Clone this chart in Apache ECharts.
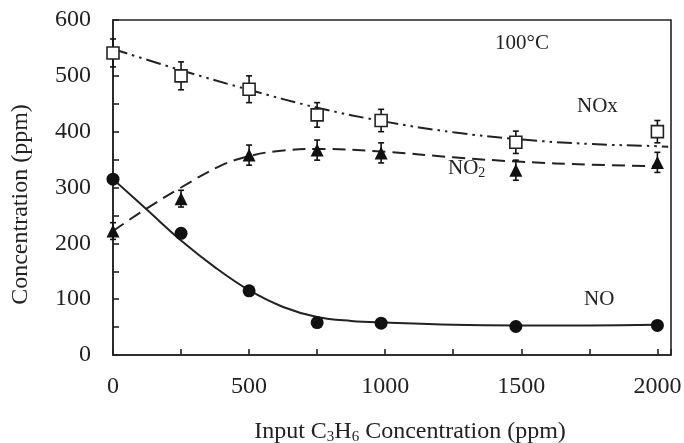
<!DOCTYPE html>
<html>
<head>
<meta charset="utf-8">
<script src="https://cdn.jsdelivr.net/npm/echarts@6/dist/echarts.min.js"></script>
<style>html,body{margin:0;padding:0;background:#fff;}#c{width:684px;height:443px;}</style>
</head>
<body>
<div id="c"></div>
<script>
// Measured points
const xVals = [0, 250, 500, 750, 985, 1480, 2000];
const noxVals = [541, 500, 476, 430, 420, 381, 400];
const noxErr = [25, 25, 24, 22, 20, 20, 20];
const no2Vals = [222, 280, 358, 367, 362, 331, 345];
const no2Err = [15, 15, 18, 18, 18, 18, 18];
const noVals = [315, 218, 115, 58, 57, 51, 53];

// Fitted trend curves
const noxFitX = [0, 250, 500, 750, 1000, 1250, 1500, 1750, 2000, 2040];
const noxFitY = [548, 510, 475, 443, 418, 399, 386, 378, 374, 373];
const no2FitX = [0, 100, 250, 400, 500, 600, 750, 1000, 1250, 1500, 1750, 2000];
const no2FitY = [222, 255, 300, 340, 356, 365, 369, 364, 354, 346, 341, 338];
const noFitX = [0, 125, 250, 375, 500, 625, 750, 875, 1000, 1250, 1500, 1750, 2000];
const noFitY = [315, 260, 205, 157, 116, 86, 68, 61, 58, 54, 53, 53, 54];

// Tick labels
const xTickLabels = [0, 500, 1000, 1500, 2000];
const yTickLabels = [0, 100, 200, 300, 400, 500, 600];

const FONT = '"Liberation Serif", "DejaVu Serif", serif';
const zip = (a, b) => a.map((v, i) => [v, b[i]]);
const zip3 = (a, b, c) => a.map((v, i) => [v, b[i], c[i]]);

function errRender(params, api) {
  const x = api.value(0), y = api.value(1), e = api.value(2);
  const t = api.coord([x, y + e]), b = api.coord([x, y - e]);
  const w = 3;
  const st = {stroke: '#111', lineWidth: 1.6};
  return {type: 'group', children: [
    {type: 'line', shape: {x1: t[0], y1: t[1], x2: b[0], y2: b[1]}, style: st},
    {type: 'line', shape: {x1: t[0] - w, y1: t[1], x2: t[0] + w, y2: t[1]}, style: st},
    {type: 'line', shape: {x1: b[0] - w, y1: b[1], x2: b[0] + w, y2: b[1]}, style: st}
  ]};
}

const chart = echarts.init(document.getElementById('c'), null, {renderer: 'canvas'});
chart.setOption({
  animation: false,
  backgroundColor: '#fff',
  grid: {left: 113, right: 13, top: 20, bottom: 88, containLabel: false, outerBoundsMode: 'none',
    show: true, borderColor: '#222', borderWidth: 1.6, backgroundColor: 'transparent'},
  xAxis: {
    type: 'value', min: 0, max: 2050, interval: 250,
    name: 'Input C{s|3}H{s|6} Concentration (ppm)',
    nameLocation: 'middle', nameGap: 63,
    nameTextStyle: {fontFamily: FONT, fontSize: 24, color: '#222', padding: [0, 0, 0, 36],
      rich: {s: {fontFamily: FONT, fontSize: 15, color: '#222', verticalAlign: 'bottom', padding: [12, 0, 0, 0]}}},
    axisLine: {lineStyle: {color: '#222', width: 1.6}},
    axisTick: {inside: true, length: 6, lineStyle: {color: '#222', width: 1.6}},
    axisLabel: {fontFamily: FONT, fontSize: 24, color: '#222', margin: 20,
      formatter: v => xTickLabels.includes(v) ? String(v) : ''},
    splitLine: {show: false}
  },
  yAxis: {
    type: 'value', min: 0, max: 600, interval: 50,
    name: 'Concentration (ppm)', nameLocation: 'middle', nameGap: 80, nameRotate: 90,
    nameTextStyle: {fontFamily: FONT, fontSize: 24, color: '#222', padding: [0, 34, 0, 0]},
    axisLine: {lineStyle: {color: '#222', width: 1.6}},
    axisTick: {inside: true, length: 6, lineStyle: {color: '#222', width: 1.6}},
    axisLabel: {fontFamily: FONT, fontSize: 24, color: '#222', margin: 22,
      formatter: v => yTickLabels.includes(v) ? String(v) : ''},
    splitLine: {show: false}
  },
  series: [
    {name: 'NOx fit', type: 'line', data: zip(noxFitX, noxFitY), smooth: 0.4, showSymbol: false, symbol: 'none',
      lineStyle: {color: '#222', width: 2, type: [15, 5, 2.5, 5, 2.5, 5]}, z: 2},
    {name: 'NO2 fit', type: 'line', data: zip(no2FitX, no2FitY), smooth: 0.4, showSymbol: false, symbol: 'none',
      lineStyle: {color: '#222', width: 2, type: [13, 7]}, z: 2},
    {name: 'NO fit', type: 'line', data: zip(noFitX, noFitY), smooth: 0.4, showSymbol: false, symbol: 'none',
      lineStyle: {color: '#222', width: 2}, z: 2},
    {name: 'NOx err', type: 'custom', data: zip3(xVals, noxVals, noxErr), renderItem: errRender, z: 3},
    {name: 'NO2 err', type: 'custom', data: zip3(xVals, no2Vals, no2Err), renderItem: errRender, z: 3},
    {name: 'NOx', type: 'scatter', data: zip(xVals, noxVals), symbol: 'rect', symbolSize: 12,
      itemStyle: {color: '#fff', borderColor: '#222', borderWidth: 1.6, opacity: 1}, z: 4},
    {name: 'NO2', type: 'scatter', data: zip(xVals, no2Vals), symbol: 'triangle', symbolSize: 13,
      itemStyle: {color: '#111', opacity: 1}, z: 4},
    {name: 'NO', type: 'scatter', data: zip(xVals, noVals), symbol: 'circle', symbolSize: 13,
      itemStyle: {color: '#111', opacity: 1}, z: 4}
  ],
  graphic: [
    {type: 'text', left: 495, top: 33, style: {text: '100°C', font: '21px ' + FONT, fill: '#222'}},
    {type: 'text', left: 577, top: 96, style: {text: 'NOx', font: '21px ' + FONT, fill: '#222'}},
    {type: 'text', left: 448, top: 158, style: {text: 'NO{s|2}', font: '21px ' + FONT, fill: '#222',
      rich: {s: {fontFamily: FONT, fontSize: 14, fill: '#222', padding: [10, 0, 0, 0]}}}},
    {type: 'text', left: 584, top: 289, style: {text: 'NO', font: '21px ' + FONT, fill: '#222'}}
  ]
});
</script>
</body>
</html>
